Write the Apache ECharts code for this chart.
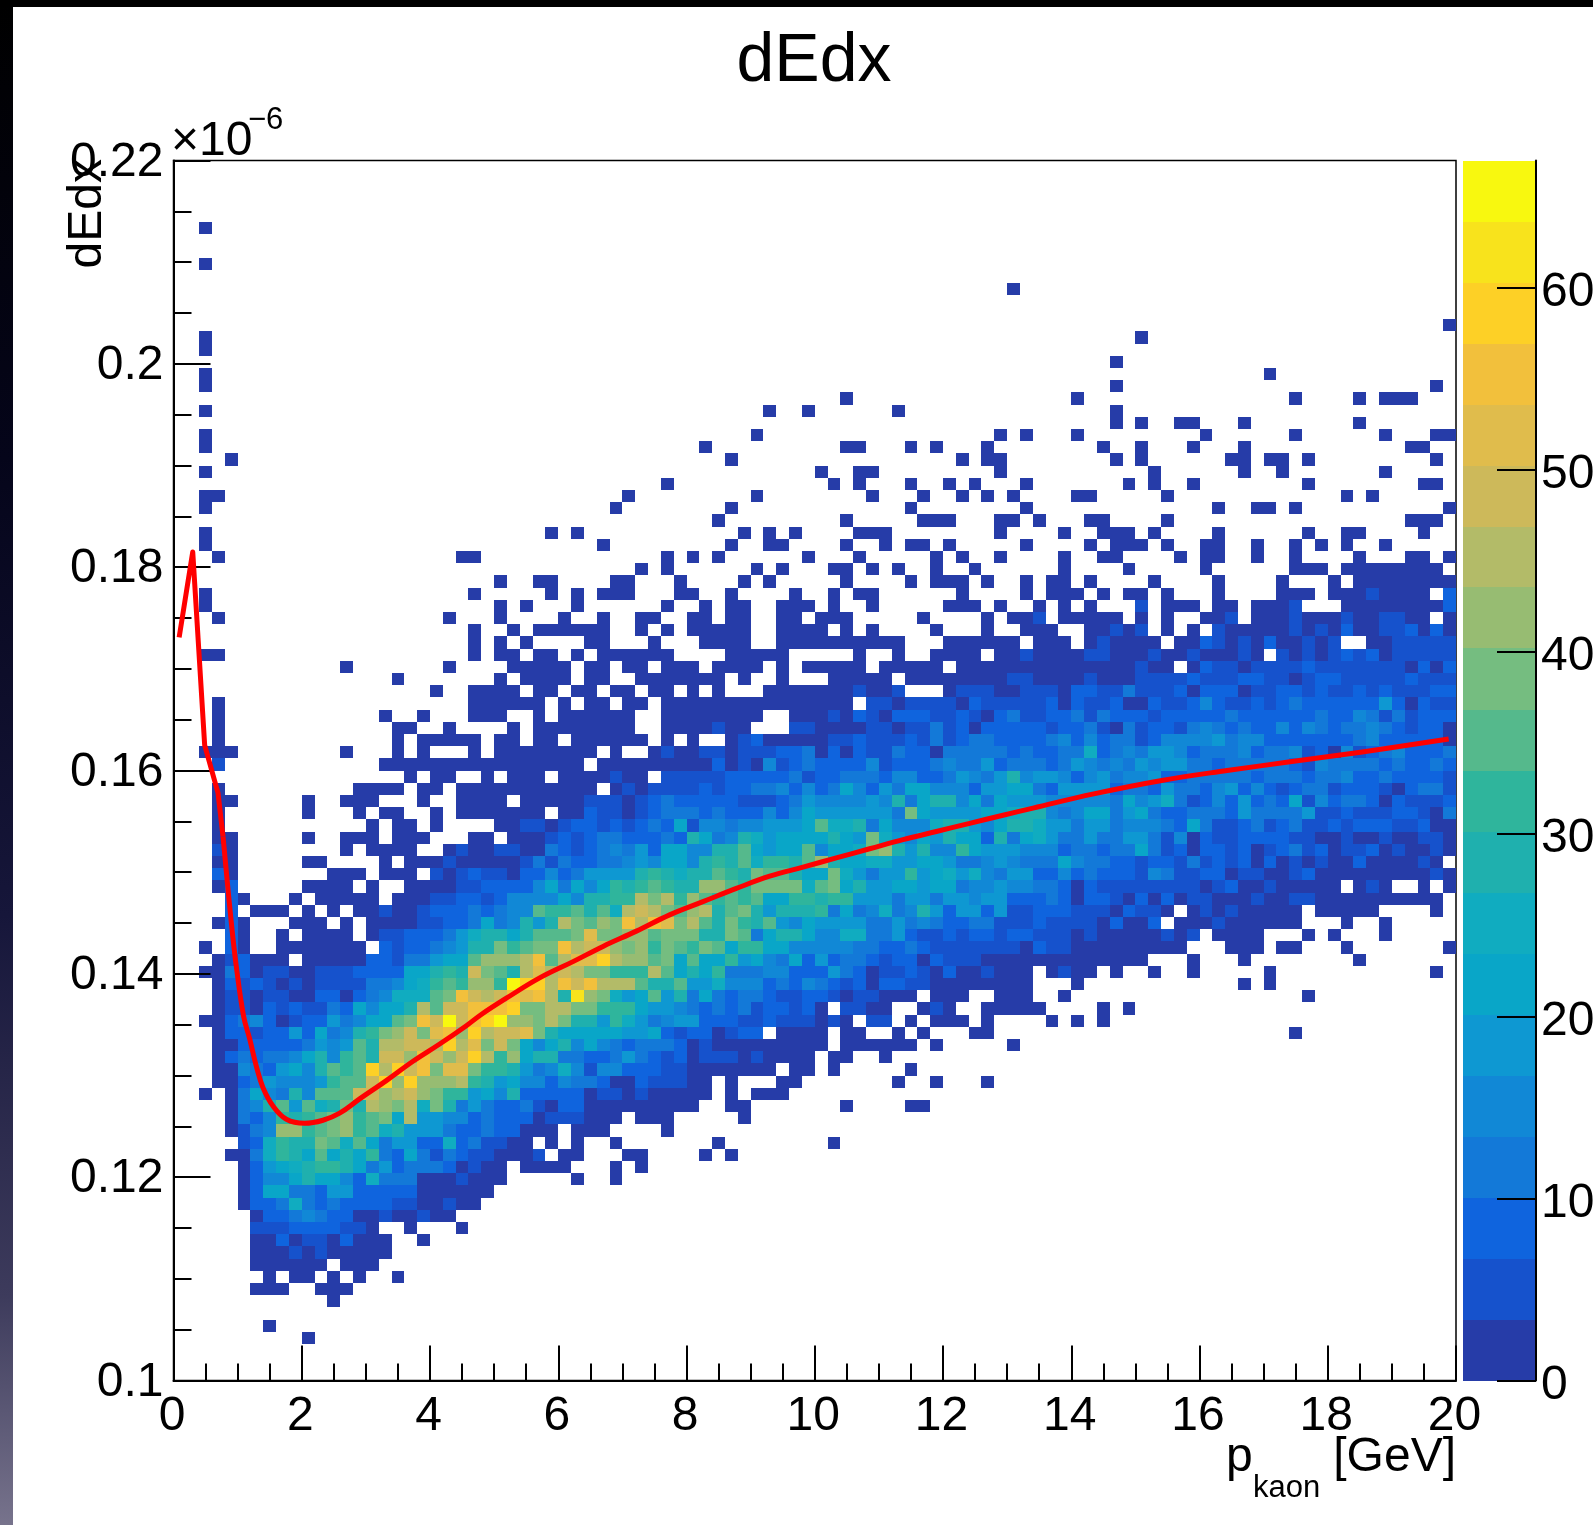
<!DOCTYPE html>
<html><head><meta charset="utf-8">
<style>html,body{margin:0;padding:0;background:#fff;overflow:hidden}#c{width:1593px;height:1525px}</style>
<script src="https://cdn.jsdelivr.net/npm/echarts@6/dist/echarts.min.js"></script>
</head><body><div id="c"></div>
<script>
// Histogram contents. Each entry is one bin row, top row first.
// Format: "firstColumn:levels ..." with one character per bin; the character is the colour band (0-9,a-j).
const rowsFromTop = [
"","","","","",
"2:0","","",
"2:0","","65:0","","",
"99:0",
"2:0 75:0",
"2:0",
"73:0",
"2:0 85:0",
"2:0 73:0 98:0",
"52:0 70:0 87:0 92:0 94:000",
"2:0 46:0 49:0 56:0 73:0",
"73:0 75:0 78:00 83:0 92:0",
"2:0 45:0 64:0 66:0 70:0 80:0 87:0 94:0 98:00",
"2:0 41:0 52:00 57:0 59:0 63:0 72:0 75:0 79:0 83:0 96:00",
"4:0 43:0 61:0 63:00 73:0 75:0 82:00 85:00 88:0 98:0",
"2:0 50:0 53:00 64:0 76:0 83:0 86:0 94:0",
"38:0 51:0 53:0 57:0 60:0 62:0 66:0 74:0 76:0 79:0 88:0 97:00",
"2:00 35:0 45:0 54:0 58:0 61:0 63:0 65:0 70:00 77:0 91:0 93:0",
"2:0 34:0 43:0 57:0 66:0 81:0 84:00 87:0 99:0",
"42:0 52:0 58:000 64:00 67:0 71:00 77:0 96:000",
"2:0 29:0 31:0 44:0 46:0 48:0 53:000 64:0 69:0 72:000 76:0 81:0 88:0 91:00 97:0",
"2:0 33:0 43:0 46:00 52:0 55:0 57:00 60:0 66:0 71:0 73:000 77:0 80:00 84:0 87:0 89:0 91:0 94:0",
"3:0 22:00 38:0 40:0 42:0 49:0 53:0 59:0 61:0 64:0 69:0 72:00 78:0 80:00 84:0 87:0 92:0 96:00 99:0",
"36:0 38:0 45:0 47:0 51:00 54:0 56:0 59:0 62:0 69:0 74:0 80:0 87:000 91:00000000",
"25:0 28:00 34:00 39:0 44:0 46:0 52:0 57:0 59:000 63:0 66:0 68:00 71:0 76:0 81:0 86:0 90:0 92:00000000",
"2:0 23:0 29:0 31:0 33:000 39:00 43:0 48:0 51:0 53:00 61:0 66:0 68:000 72:0 74:00 77:0 81:0 86:000 90:000 93:1 94:0000 99:2",
"2:0 25:0 27:0 31:0 38:0 41:0 43:00 47:000 51:0 54:0 60:000 64:0 67:0 69:0 71:0 75:1 77:000 81:00 84:000 87:1 91:00000000 99:2",
"3:0 21:0 25:0 30:0 33:0 36:00 40:00 43:00 47:00 50:000 58:0 63:0 65:00 67:1 69:00000 75:0 77:0 80:00 82:1 84:000 87:1 88:000 91:1 92:00 94:11 96:00 99:0",
"23:0 26:0 28:000000 36:0 38:0 40:00000 47:000 50:0 52:0 54:0 59:0 63:0 66:000 71:00 73:1 74:0 75:1 77:0 79:0 81:1 82:00000 87:1 88:0 89:1 90:0 91:2 92:00 94:11 96:2 97:0 98:2 99:0",
"23:0 25:0 27:0 32:00 37:0 41:0000 47:000 50:0000000 60:000000 67:000 71:0 72:1 73:0000 78:00 80:2 81:1 82:0 83:1 84:0 85:2 86:00 88:1 89:0 90:1 93:00 95:11111",
"2:00 23:0 25:00 28:00 31:0 33:000000 43:00000 53:0 56:0 59:0000 64:00 66:1 67:0000 71:11 73:000 76:1 77:00 79:1 80:000 83:1 84:0 86:1 87:0 88:1 89:0 90:1 91:2 92:1 93:2 94:0 95:11111",
"13:0 21:0 26:00000 32:00 35:00 38:000 42:0000 47:0 49:00000 55:00000 61:000000 67:00000000 75:1 76:00 79:0 80:2 81:11 83:0 84:1111 88:2 89:1111111 96:0 97:2 98:0 99:2",
"17:0 25:0 27:0000 32:00 36:0000000 44:0 47:0 51:00000 57:00000000 65:11 67:0000 71:1 72:000 75:1111 79:2 80:111 83:22 85:11 87:0 88:1 89:22 91:11111 96:2 97:111",
"20:0 23:0000 28:00 31:00 34:00 37:00 40:0 42:0 46:0000000 53:1 54:00 56:1 60:0 61:111 64:00 66:1 67:11 69:0 70:22 72:11 74:3 75:111 78:2 79:0 80:222 83:0 84:11 86:22 88:1 89:2 90:11 92:2 93:1 94:2 95:111 98:22",
"3:0 23:000000 30:0 32:00 35:00 38:000000000000000 54:11 56:0 57:1111 61:0 62:2 63:1111 67:1 68:2 69:0 70:2 71:11 73:2 74:00 76:2 77:11 79:2 80:4 81:2 82:11 84:2 85:1 86:2 87:3 88:222222 94:5 95:2 96:0 97:2 98:11",
"3:0 16:0 19:0 23:000 28:0 30:000 33:000 38:00000000 48:000 51:1 52:0 53:2 54:1 55:0 56:222 59:11 61:2 62:1 63:0 64:2 65:3 66:1 67:1 68:22 70:3 71:1 72:3 73:222 76:1 77:22222 82:3 83:222222 89:3 90:22 92:4 93:3 94:1 95:3 96:1 97:222",
"3:0 17:00 21:0 26:0 28:000000 34:00 38:0000 42:1 43:00 48:11 50:0000 54:11 56:0 57:11 59:3 60:1 61:2 62:0 63:2222 67:2 68:1 69:22 71:3 72:1 73:0 74:3 75:1 76:22 78:1 79:3 80:4 81:3 82:2 83:3 84:22 86:4 87:2 88:4 89:3 90:2 91:33 93:4 94:3 95:2 96:1 97:22 99:0",
"3:0 17:0 19:00000 25:00 28:00 31:000 34:000 38:0 40:0 43:0 44:1 45:2 46:00000 51:11 53:2 54:111 57:2 58:1 59:3 60:1 61:2 62:33 64:222 67:2 68:3 69:4 70:2 71:4 72:2 73:33 75:1 76:2 77:4444 81:5 82:3 83:44 85:2222222 92:3 93:4 94:22222 99:0",
"2:000 13:0 17:0 19:0 23:0 25:00000000 34:0 37:0 38:1 39:00 41:11 43:0 44:111 47:22 49:3 50:0 51:2 52:0 53:2 54:11 56:3 57:22 59:0 60:3 61:3333 65:2 66:3 67:22 69:33 71:7 72:2 73:3 74:4 75:3 76:55 78:4 79:2 80:333 83:4 84:2 85:33 87:4 88:1 89:2 90:0 91:4 92:1 93:2 94:3 95:4 96:222 99:3",
"3:1 16:0000000000000000 33:000000000 42:2 43:0 44:1 45:0 46:4 47:1 48:2 49:3 50:2222 54:4 55:122 58:2 59:3 60:4 61:33 63:5 64:2 65:33 67:3 68:2 69:3 70:5 71:4 72:3 73:4 74:3 75:5 76:4 77:55 79:33 81:2 82:33333 87:2 88:1 89:4 90:3333 94:23 96:22 98:3 99:2",
"18:0 20:00 24:0 26:000 30:0000 34:1 35:00 38:11111 43:22222 48:3 49:1 50:22 52:3 53:3 54:3 55:2 56:44 58:2 59:2 60:3 61:5 62:4 63:3 64:5 65:8 66:4 67:55 69:4 70:2 71:4 72:5 73:3 74:44 76:5 77:22 79:3333 83:3 84:2 85:333 88:2 89:3 90:34 92:22 94:3 95:222 98:2 99:1",
"3:0 14:0000 19:00 22:00000000000 34:0 35:1 36:0 37:1111 41:2 42:1 43:22 45:33 47:4 48:2 49:4 50:2 51:3 52:6 53:4 54:2 55:5 56:3 57:66 59:444 62:2 63:5566 67:3 68:2 69:5555 73:2 74:33 76:2 77:5 78:33 80:2 81:4 82:5 83:2 84:4 85:2 86:1 87:2 88:33 90:1 91:222 94:1 95:0 96:2 97:33 99:1",
"3:00 10:0 13:000 19:0 22:0000 27:00000 32:11 34:1 35:0 36:1 37:2 38:3 39:22 41:22 43:2 44:111 47:2 48:3 49:5 50:4444 54:5 55:4 56:8 57:3 58:6 59:8 60:8 61:4 62:6 63:3 64:6 65:5 66:5 67:5 68:4 69:4444 73:3 74:6 75:4 76:5 77:7 78:3 79:1 80:2 81:4 82:2 83:5 84:2 85:3 86:2 87:6 88:1 89:4 90:2 91:33 93:2 94:0 95:2 96:111 99:2",
"3:0 10:0 14:0 16:00 20:0 22:0000000 30:00 32:21 34:1 35:0 36:1 37:2 38:33 40:3 41:2 42:3 43:2 44:22 46:4 47:2 48:4 49:6 50:55 52:55 54:5 55:5 56:3 57:b 58:6 59:55 61:5 62:5 63:66 65:78 67:8 68:4 69:3 70:4 71:66 73:3 74:5 75:6 76:3 77:22 79:333 82:2 83:5 84:3 85:33 87:3 88:5 89:11 91:2 92:111 95:22 97:1 98:0 99:3",
"3:0 15:0 17:00 20:0 25:00 27:11 29:0 30:1 31:22 33:12 35:1 36:2 37:3 38:2 39:6 40:1 41:44 43:344 46:555 49:6 50:a 51:77 53:8 54:3 55:6 56:44 58:4 59:7 60:8 61:8 62:5 63:4 64:6 65:8 66:8 67:7 68:5 69:5 70:3 71:55 73:3 74:444 77:3 78:2 79:6 80:3 81:11 83:2 84:3 85:1 86:2 87:3 88:11 90:2 91:1 92:222 95:11 97:2 98:00",
"3:00 10:0 13:000 17:000 23:00 26:000 29:1 30:2 31:1 32:2 33:33 35:2 36:22 38:3 39:2 40:8 41:6 42:3 43:4 44:8 45:7 46:5 47:666 50:6 51:8 52:6 53:5 54:b 55:7 56:5 57:4 58:6 59:5 60:8 61:6 62:6 63:2 64:8 65:3 66:6 67:7 68:5 69:33 71:5 72:33 74:55 76:3 77:1 78:4 79:0 80:2 81:11 83:2222 87:11 89:00 91:1 92:00 94:1 95:00 97:11 99:0",
"3:1 4:0 13:0 15:0000 21:0 22:1 23:00 25:11 27:00 29:3 30:2 31:1 32:2 33:3 34:4 35:3 36:5 37:2 38:66 40:44 42:88 44:a 45:6 46:5 47:66 49:a 50:4 51:66 53:7 54:b 55:c 56:8 57:5 58:8 59:44 61:9 62:6 63:555 66:4 67:44 69:2 70:33 72:2 73:33 75:6 76:3 77:1 78:2 79:0 80:22 82:1 83:2 84:0 85:1 86:2 87:3 88:1 89:2 90:0 91:11 93:2 94:0 95:1 96:00 98:1 99:0",
"3:00 10:00 16:0 18:000 21:1 22:00000 27:1 28:3 29:1 30:3 31:22 33:3 34:3 35:4 36:5 37:4 38:66 40:4 41:8 42:98 44:a 45:7 46:99 48:8 49:a 50:c 51:8 52:66 54:77 56:55 58:66 60:5 61:33 63:4 64:5 65:4 66:3 67:33 69:6 70:4 71:33 73:22 75:1 76:22 78:1 79:3 80:1 81:2 82:1 83:2 84:0 85:2 86:0 87:1 88:0 89:1 90:00 92:2 93:0000 97:1 98:0",
"3:20 12:000 16:000 20:1 21:0 22:1 23:2 24:11 26:0 27:22 29:4 30:2 31:3 32:55 34:55 36:8 37:9 38:8 39:7 40:88 42:a 43:9 44:8 45:b 46:aa 48:8 49:66 51:b 52:7 53:5 54:3 55:55 57:9 58:5 59:6 60:7 61:5 62:7 63:4 64:3 65:5 66:5 67:22 69:4 70:2 71:3 72:222 75:1 76:4 77:3 78:11 80:22 82:0 83:11 85:00 87:1 88:2 89:000000000 98:1 99:0",
"3:02 10:0000 15:0 18:0000 22:11 24:2222 28:4 29:6 30:3 31:6 32:4 33:6 34:9 35:8 36:9 37:a 38:9 39:88 41:cc 43:a 44:9 45:bbbb 49:7 50:a 51:b 52:6 53:8 54:55 56:66 58:5 59:66 61:3 62:44 64:5 65:4 66:4 67:33 69:2 70:0 71:2 72:11111111 80:0 81:1 82:2 83:00 85:1 86:00000 92:0 93:1 94:0 97:0 99:0",
"4:2 5:0 9:0 11:00000 17:000 20:11 22:22 24:1 25:2 26:4444 30:6 31:4 32:88 34:99 36:d 37:b 38:d 39:9 40:c 41:a 42:9 43:a 44:9 45:a 46:66 48:99 50:8 51:99 53:555 56:3 57:55 59:3 60:55 62:4 63:55 65:22 67:23 69:2 70:0 71:22 73:1 74:0 75:2 76:0 77:2 78:0 79:11 81:000 84:1 85:00 87:11 89:0000000000",
"4:2 6:000 10:0 12:0 14:00 16:1 17:00 19:1 20:222 23:3 24:2 25:3 26:44 28:a 29:99 31:a 32:8 33:a 34:7 35:d 36:e 37:d 38:b 39:a 40:c 41:d 42:8 43:a 44:b 45:8 46:5 47:888 50:9 51:3 52:6 53:3 54:4 55:7 56:3 57:4 58:8 59:5 60:2 61:55 63:2 64:5 65:1 66:1 67:2 68:22 70:111 73:0 74:2 75:11 77:0 79:0 80:1 81:0 82:1 83:00000 89:00000 98:0",
"3:0 4:2 5:0 9:000 13:0 15:0000 19:11 21:22 23:3 24:6 25:3 26:4 27:8 28:5 29:8 30:d 31:b 32:a 33:c 34:b 35:g 36:d 37:g 38:f 39:b 40:d 41:a 42:8 43:b 44:9 45:8 46:a 47:5 48:4 49:6 50:5555 54:33 56:5 57:3 58:4 59:3 60:22 62:33 64:1 65:1 66:1 67:2 68:1111 72:0 73:2 74:00 76:2 78:000 81:1 82:000000 91:0 94:0",
"4:2 5:0 8:0 10:0000 15:0 16:11 18:222 21:3 22:5 23:7 24:88 26:6 27:8 28:aaa 31:b 32:f 33:b 34:b 35:c 36:c 37:a 38:b 39:bb 41:88 43:b 44:a 45:3 46:6 47:88 49:6 50:44 52:77 54:33 56:5 57:2 58:11 60:2 61:1 62:22 64:1 65:2 66:2 67:111 70:0 71:1 72:00000 77:1 78:0 79:1 81:0000 88:0 90:0 94:0",
"2:0 4:2 5:0 8:0000000 16:2 17:1 18:22 20:3 21:4 22:5 23:88 25:b 26:9 27:a 28:bb 30:g 31:d 32:e 33:e 34:c 35:b 36:c 37:9 38:b 39:a 40:9 41:b 42:a 43:6 44:99 46:66 48:44 50:444 53:33 55:22 57:3 58:2 59:111111 65:1 66:0 67:2 68:11 70:000000000 82:000 86:00 91:0 99:0",
"3:0 4:1 5:2 6:000 10:00000 15:22 17:1 18:33 20:5 21:66 23:a 24:ccc 27:d 28:g 29:a 30:d 31:ff 33:h 34:d 35:cc 37:a 38:b 39:6 40:a 41:66 43:9 44:5 45:6 46:4 47:3 48:6 49:2 50:5 51:2 52:33 54:2 55:1 56:22 58:0 59:2 60:111 63:0000 67:000000000 79:0 83:0 92:0",
"2:00 4:3 5:2 6:0 7:11 9:00 11:111 14:2222 18:66 20:8 21:9 22:8 23:e 24:b 25:a 26:8 27:d 28:f 29:d 30:e 31:d 32:b 33:b 34:999 37:d 38:a 39:6 40:8 41:6 42:9 43:333 46:44 48:222 51:5 52:3 53:2 54:0 55:11 57:2 58:1 59:0 60:2 61:00 63:1 64:000 68:0 69:1 70:00 73:0 76:0 79:0 85:0 98:0",
"3:0 4:2 5:1 6:2 7:1 8:0 9:1 10:0 11:1111 15:33 17:4 18:6 19:7 20:9 21:a 22:9 23:cc 25:9 26:j 27:hh 29:d 30:g 31:e 32:g 33:d 34:dd 36:a 37:88 39:a 40:55 42:7 43:444 46:2 47:3 48:2 49:4 50:3 51:2 52:1 53:2 54:0 55:22 57:11 59:00000000 70:0 83:0 85:0",
"3:0 4:11 6:0 7:11 9:00 11:22 13:0 14:2 15:3 16:4 17:777 20:a 21:b 22:g 23:e 24:d 25:e 26:g 27:f 28:g 29:d 30:8 31:i 32:c 33:b 34:7 35:5 36:6 37:a 38:5 39:8 40:3 41:6 42:3 43:2 44:33 46:2 47:11 49:22 51:1 52:0 53:11 55:000 59:000 64:000 69:0 88:0",
"3:0 4:11 6:0 7:2 8:1 9:2 10:11 12:3 13:2 14:6 15:4 16:66 18:8 19:d 20:a 21:ee 23:ggg 26:h 27:bb 29:dd 31:bb 33:9 34:99 36:6 37:55 39:4 40:3 41:2 42:3 43:2 44:3 45:1 46:22 48:1 49:2 50:0 52:11 54:00 58:0 59:1 60:0 63:00000 72:0 74:0",
"2:00 4:2 5:3 6:4 7:2 8:0 9:1 10:2 11:2 12:5 13:3 14:4 15:6 16:6 17:a 18:b 19:g 20:e 21:j 22:e 23:g 24:h 25:j 26:cc 28:b 29:d 30:b 31:88 33:5 34:9 35:7 36:5 37:3 38:4 39:55 41:222 44:11 46:2 47:111 50:0 51:1 52:0 54:11 57:0 59:000 63:0 68:0 70:0 72:0",
"3:0 4:22 6:1 7:22 9:5 10:2 11:6 12:3 13:4 14:8 15:9 16:b 17:c 18:e 19:b 20:f 21:g 22:c 23:h 24:d 25:ee 27:f 28:b 29:8 30:666 33:66 35:55 37:6 38:2 39:1 40:22 42:0 43:1 44:22 47:0000 52:00 56:0 58:0 62:00 87:0",
"3:00 5:2 6:2 7:22 9:2 10:3 11:5 12:4 13:5 14:a 15:8 16:d 17:d 18:ee 20:d 21:h 22:d 23:f 24:b 25:e 26:b 27:6 28:4 29:6 30:8 31:4 32:6 33:4 34:3 35:2 36:333 39:2 40:0 41:1 42:000000000 52:000000 59:0 65:0",
"3:0 4:2 5:3 6:2 7:33 9:4 10:6 11:8 12:4 13:9 14:a 15:8 16:ee 18:c 19:g 20:e 21:c 22:e 23:h 24:d 25:9 26:c 27:6 28:88 30:3 31:3 32:2 33:2 34:3 35:5 36:3 37:2 38:1 39:2 40:0 41:1 42:11 44:0 45:1 46:0000 51:00 55:0",
"3:00 5:4 6:3 7:2 8:5 9:6 10:4 11:8 12:a 13:9 14:a 15:h 16:d 17:h 18:e 19:g 20:b 21:ff 23:b 24:99 26:8 27:5 28:3 29:4 30:7 31:4 32:1 33:4 34:4 35:22 37:2 38:11 40:0000000 48:00 51:0 57:0",
"3:00 5:2 6:3 7:5 8:444 11:5 12:9 13:aa 15:e 16:h 17:c 18:h 19:ccc 22:d 23:9 24:8 25:5 26:6 27:44 29:2 30:4 31:33 33:2 34:00 36:2 37:111 40:00 43:0 47:00 56:0 59:0 63:0",
"2:0 4:0 5:3 6:6 7:4 8:3 9:8 10:4 11:aaa 14:ee 16:c 17:d 18:e 19:c 20:b 21:99 23:5 24:6 25:4 26:8 27:2222 31:2 32:0 33:1 34:1 35:0 36:1 37:00000 43:0 45:000",
"4:0 5:3 6:4 7:8 8:a 9:5 10:a 11:7 12:8 13:b 14:8 15:d 16:c 17:b 18:d 19:7 20:b 21:8 22:3 23:5 24:3 25:22 27:3 28:1 29:0 30:22 32:00 34:0000000 43:00 52:0 57:00",
"4:0 5:3 6:2 7:4 8:9 9:8 10:9 11:a 12:b 13:c 14:9 15:a 16:b 17:6 18:d 19:55 21:44 23:2 24:3 25:222 28:0 29:111 32:000 36:000 44:0",
"4:0 5:1 6:3 7:4 8:cc 10:9 11:a 12:b 13:c 14:9 15:a 16:7 17:8 18:555 21:3 22:22 24:3 25:2 26:2 27:000 31:000 38:0",
"5:1 6:2 7:7 8:9 9:88 11:b 12:a 13:7 14:a 15:6 16:3 17:55 19:22 21:7 22:2 23:3 24:11 26:00 29:0 31:0 34:0 42:0 51:0",
"4:00 6:3 7:7 8:9 9:8 10:6 11:a 12:6 13:8 14:6 15:9 16:3 17:2 18:6 19:3 20:1 21:3 22:2 23:11 25:000 28:1 30:00 35:00 41:0 43:0",
"5:0 6:2 7:5 8:6 9:7 10:8 11:99 13:8 14:6 15:3 16:5 17:2 18:333 21:2 22:0 23:1 24:00 27:0000 34:0 36:0",
"5:0 6:2 7:44 9:6 10:8 11:66 13:4 14:2 15:7 16:333 19:000 22:1 23:000 31:0 34:0",
"5:0 6:2 7:66 9:33 11:2 12:55 14:22222 19:000000",
"5:0 6:22 8:3 9:7 10:3 11:2 12:3 13:2222 17:11 19:00 21:1 22:00",
"6:0 7:22 9:3 10:4 11:3 12:22 14:00 16:1 17:00 19:1 20:00",
"6:111 9:2222 13:11 15:0 18:0 22:0",
"6:00 8:2 9:0 10:11 12:0 13:2 14:000 19:0",
"6:000 9:1 10:0 11:1 12:00000",
"6:000000 13:000",
"7:0 9:00 12:0 14:0 17:0",
"6:000 11:000",
"12:0",
"",
"7:0",
"10:0"
];
// Fit curve: p, dE/dx (units of 1e-6). The first points form the sharp low-momentum peak.
const fitP   = [0.088,0.30,0.486,0.694,0.772,0.902,0.98,1.094,1.188,1.292,1.396,1.552,1.76,2.045,2.331,2.591,2.903,3.319,3.735,4.151,4.567,4.8,5.19,5.71,6.23,6.698,7.218,7.737,8.257,8.777,9.297,9.817,10.336,10.856,11.376,11.896,12.416,12.936,13.404,14.35,15.389,16.43,17.47,18.51,19.886];
const fitVal = [0.1731,0.1815,0.1625,0.1578,0.1535,0.145,0.1407,0.1358,0.1336,0.1309,0.1288,0.127,0.1257,0.1253,0.1256,0.1263,0.1277,0.1295,0.1314,0.1331,0.1349,0.136,0.1376,0.1396,0.1412,0.1427,0.1442,0.1458,0.1471,0.1484,0.1496,0.1505,0.1514,0.1523,0.1532,0.154,0.1548,0.1556,0.1563,0.1577,0.159,0.16,0.1609,0.1618,0.1631];
const fitSharpCount = 5;
const bandColors = ["#263ca8","#1652cc","#0f64de","#1379d8","#1188d6","#0e98d2","#09a6c8","#10acc0","#1fb0ae","#2fb59c","#55b98c","#75bd80","#97bc72","#b3bb68","#cdb95a","#e0bc4c","#f2c03c","#fdd026","#f8e31c","#f8f80f"];
const xTicks = [0,2,4,6,8,10,12,14,16,18,20];
const zTicks = [0,10,20,30,40,50,60];
const xMin=0,xMax=20,yMin=0.1,yMax=0.22,zMax=67,nBins=100;

const LEVELS="0123456789abcdefghij";
const binW=(xMax-xMin)/nBins, binH=(yMax-yMin)/nBins, bandW=zMax/bandColors.length;
const binX=i=>xMin+i*binW, binY=i=>yMin+i*binH;
const cells=[];
rowsFromTop.forEach((row,rt)=>{
  if(!row) return;
  const yi=nBins-1-rt;
  row.split(' ').forEach(seg=>{
    const [st,s]=seg.split(':');
    for(let i=0;i<s.length;i++){
      const l=LEVELS.indexOf(s[i]); if(l<0) continue;
      cells.push([binX(+st+i), binY(yi), (l+0.5)*bandW, +st+i, yi]);
    }
  });
});
const bands=bandColors.map((c,i)=>[i*bandW,(i+1)*bandW]);
const fitPts=fitP.map((p,i)=>[p,fitVal[i]]);
const FONT='"Liberation Sans",Arial,Helvetica,sans-serif';
const GL={left:173.5,top:160.5,width:1282.5,height:1220};
const chart=echarts.init(document.getElementById('c'),null,{renderer:'canvas',width:1593,height:1525});
const lineS={color:'#000',width:2};
function rectFrom(api,x0,y0,x1,y1){
  const a=api.coord([x0,y0]), b=api.coord([x1,y1]);
  const X0=Math.round(a[0]),X1=Math.round(b[0]),Y0=Math.round(a[1]),Y1=Math.round(b[1]);
  return {x:X0,y:Y1,width:X1-X0,height:Y0-Y1};
}
chart.setOption({
  animation:false,
  backgroundColor:'#fff',
  title:{text:'dEdx',left:809,top:23,textAlign:'center',textStyle:{fontFamily:FONT,fontSize:68,fontWeight:'normal',color:'#000'}},
  grid:[
    {left:GL.left,top:GL.top,width:GL.width,height:GL.height,show:true,borderColor:'#000',borderWidth:1.5,backgroundColor:'#fff',z:3,outerBoundsMode:'none'},
    {left:1463,top:GL.top,width:73,height:GL.height,outerBoundsMode:'none'}
  ],
  xAxis:[
    {type:'value',gridIndex:0,min:xMin,max:xMax,interval:2,z:6,
     axisLine:{show:true,onZero:false,lineStyle:lineS},
     axisTick:{show:true,inside:true,length:35,lineStyle:lineS},
     minorTick:{show:true,splitNumber:4,length:17,lineStyle:lineS},
     splitLine:{show:false},
     axisLabel:{show:true,margin:12,padding:[0,3,0,0],customValues:xTicks,fontFamily:FONT,fontSize:48,color:'#000'}},
    {type:'value',gridIndex:1,min:0,max:1,show:false}
  ],
  yAxis:[
    {type:'value',gridIndex:0,min:yMin,max:yMax,interval:0.02,z:6,
     axisLine:{show:true,onZero:false,lineStyle:lineS},
     axisTick:{show:true,inside:true,length:37,lineStyle:lineS},
     minorTick:{show:true,splitNumber:4,length:18,lineStyle:lineS},
     splitLine:{show:false},
     axisLabel:{margin:10,verticalAlign:'bottom',padding:[0,0,-26,0],fontFamily:FONT,fontSize:48,color:'#000'}},
    {type:'value',gridIndex:1,min:0,max:zMax,position:'right',z:6,
     axisLine:{show:true,onZero:false,lineStyle:lineS},
     axisTick:{show:true,inside:true,length:39,lineStyle:lineS,customValues:zTicks},
     minorTick:{show:false},splitLine:{show:false},
     axisLabel:{margin:5,verticalAlign:'bottom',padding:[0,0,-29,0],customValues:zTicks,fontFamily:FONT,fontSize:48,color:'#000'}}
  ],
  series:[
    {type:'custom',name:'dEdx',xAxisIndex:0,yAxisIndex:0,coordinateSystem:'cartesian2d',z:4,clip:true,
     encode:{x:0,y:1},data:cells,silent:true,
     renderItem(p,api){
       const v=api.value(2),xi=api.value(3),yi=api.value(4);
       const b=Math.min(bandColors.length-1,Math.floor(v/bandW));
       return {type:'rect',shape:rectFrom(api,binX(xi),binY(yi),binX(xi+1),binY(yi+1)),style:{fill:bandColors[b]}};
     }},
    {type:'custom',name:'palette',xAxisIndex:1,yAxisIndex:1,coordinateSystem:'cartesian2d',z:4,
     encode:{y:[0,1]},data:bands,silent:true,
     renderItem(p,api){
       const i=p.dataIndex;
       return {type:'rect',shape:rectFrom(api,0,api.value(0),1,api.value(1)),style:{fill:bandColors[i]}};
     }},
    {type:'line',name:'fit low p',xAxisIndex:0,yAxisIndex:0,z:8,showSymbol:false,symbol:'none',silent:true,smooth:false,
     data:fitPts.slice(0,fitSharpCount),lineStyle:{color:'#ff0000',width:5,join:'round'}},
    {type:'line',name:'fit',xAxisIndex:0,yAxisIndex:0,z:8,showSymbol:false,symbol:'none',silent:true,smooth:0.4,
     data:fitPts.slice(fitSharpCount-1),lineStyle:{color:'#ff0000',width:5,join:'round'}}
  ],
  graphic:{elements:[
    {type:'rect',silent:true,z:60,shape:{x:0,y:0,width:13,height:1525},
     style:{fill:new echarts.graphic.LinearGradient(0,0,0,1,[{offset:0,color:'#000'},{offset:0.3,color:'#05051a'},{offset:0.6,color:'#16163a'},{offset:0.85,color:'#3d3b5c'},{offset:1,color:'#77738c'}])}},
    {type:'rect',silent:true,z:60,shape:{x:0,y:0,width:1593,height:7},style:{fill:'#000'}},
    {type:'text',silent:true,z:50,x:171,y:118,style:{text:'×10',font:'48px '+FONT,fill:'#000',textVerticalAlign:'top'}},
    {type:'text',silent:true,z:50,x:248,y:105,style:{text:'−6',font:'31px '+FONT,fill:'#000',textVerticalAlign:'top'}},
    {type:'text',silent:true,z:50,x:1226,y:1434,style:{text:'p',font:'48px '+FONT,fill:'#000',textVerticalAlign:'top'}},
    {type:'text',silent:true,z:50,x:1253,y:1473,style:{text:'kaon',font:'31px '+FONT,fill:'#000',textVerticalAlign:'top'}},
    {type:'text',silent:true,z:50,x:1456,y:1434,style:{text:'[GeV]',font:'48px '+FONT,fill:'#000',textAlign:'right',textVerticalAlign:'top'}},
    {type:'text',silent:true,z:50,x:112,y:159,rotation:Math.PI/2,style:{text:'dEdx',font:'48px '+FONT,fill:'#000',textAlign:'right',textVerticalAlign:'bottom'}}
  ]}
});
</script></body></html>
